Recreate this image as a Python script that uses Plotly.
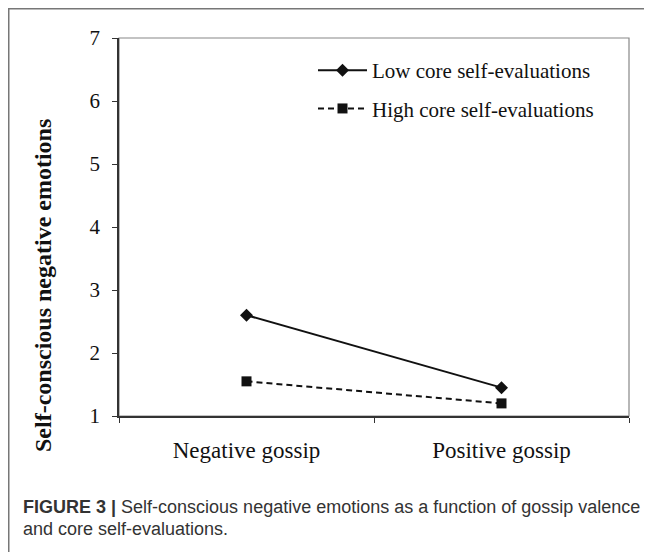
import plotly.graph_objects as go

categories = ["Negative gossip", "Positive gossip"]
low_cse = [2.6, 1.45]
high_cse = [1.55, 1.2]
series_names = ["Low core self-evaluations", "High core self-evaluations"]
y_ticks = [1, 2, 3, 4, 5, 6, 7]

SERIF = "Liberation Serif, Times New Roman, serif"
SANS = "Liberation Sans, Arial, sans-serif"

fig = go.Figure()
fig.add_trace(go.Scatter(
    x=categories, y=low_cse, name=series_names[0], mode="lines+markers",
    line=dict(color="#111111", width=2),
    marker=dict(symbol="diamond", size=10, color="#111111"),
    legendgroup="a"))
fig.add_trace(go.Scatter(
    x=categories, y=high_cse, name=series_names[1], mode="lines+markers",
    line=dict(color="#111111", width=2, dash="6px,4px"),
    marker=dict(symbol="square", size=10, color="#111111"),
    legendgroup="b"))

# page has an 8px body margin; figure coords = page coords - 8
OFF = 8
W, H = 644, 544
L, R, T, B = 111, 23, 30, 136
pw, ph = W - L - R, H - T - B

def px(x):
    return (x - OFF - L) / pw

def py(y):
    return (H - B - (y - OFF)) / ph

fig.update_layout(
    width=W, height=H,
    margin=dict(l=L, r=R, t=T, b=B),
    paper_bgcolor="white", plot_bgcolor="white",
    showlegend=True,
    legend=dict(x=px(313), y=py(50), xanchor="left", yanchor="top",
                font=dict(family=SERIF, size=21, color="#111111"),
                bgcolor="rgba(0,0,0,0)", tracegroupgap=8, itemwidth=49),
    xaxis=dict(type="category", range=[-0.5, 1.5], tickson="boundaries",
               ticks="outside", ticklen=5, tickcolor="#333333", showline=True,
               linecolor="#333333", linewidth=1.5, showgrid=False, zeroline=False,
               tickfont=dict(family=SERIF, size=23, color="#111111"),
               ticklabelstandoff=13),
    yaxis=dict(range=[1, 7], tickvals=y_ticks, ticks="outside", ticklen=5,
               tickcolor="#333333", showline=True, linecolor="#333333",
               linewidth=1.5, showgrid=False, zeroline=False,
               tickfont=dict(family=SERIF, size=21, color="#111111"),
               ticklabelstandoff=8),
)

# y-axis title
fig.add_annotation(xref="paper", yref="paper", x=px(43), y=py(286),
                   xanchor="center", yanchor="middle", showarrow=False,
                   textangle=-90, text="<b>Self-conscious negative emotions</b>",
                   font=dict(family=SERIF, size=24, color="#111111"))

# plot frame (top/right)
fig.add_shape(type="rect", xref="paper", yref="paper", x0=0, y0=0, x1=1, y1=1,
              line=dict(color="#888888", width=1.2), layer="below")
# outer figure border (left and top)
fig.add_shape(type="path", xref="paper", yref="paper",
              path=f"M {px(8.75)} {py(570)} L {px(8.75)} {py(8.75)} L {px(660)} {py(8.75)}",
              line=dict(color="#777777", width=1.5))

fig.add_annotation(xref="paper", yref="paper", x=px(21), y=py(507), xanchor="left",
                   yanchor="middle", showarrow=False, align="left",
                   text="<b>FIGURE 3 |</b> Self-conscious negative emotions as a function of gossip valence",
                   font=dict(family=SANS, size=18, color="#333333"))
fig.add_annotation(xref="paper", yref="paper", x=px(21), y=py(529), xanchor="left",
                   yanchor="middle", showarrow=False, align="left",
                   text="and core self-evaluations.",
                   font=dict(family=SANS, size=18, color="#333333"))

fig.write_html("out.html")
